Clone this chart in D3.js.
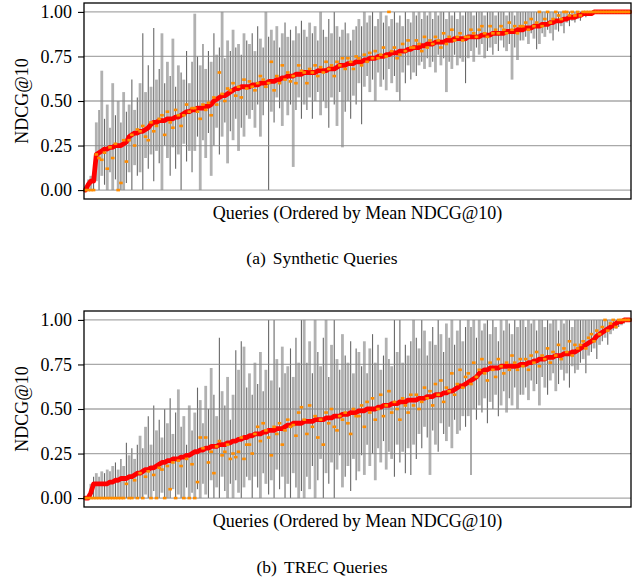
<!DOCTYPE html>
<html>
<head>
<meta charset="utf-8">
<script src="https://cdn.jsdelivr.net/npm/d3@7"></script>
<style>
  body { margin: 0; background: #fff; }
  svg text { font-family: "Liberation Serif", "Times New Roman", serif; fill: #000; }
</style>
</head>
<body>
<svg id="chart" width="638" height="584"></svg>
<script>
// Values in percent (NDCG@10 x 100), one entry per query, ordered by mean.
// Synthetic queries
var meanA = [
  0,3,5,5,20,21,22,23,23,24,24,25,25,25,26,27,30,31,32,32,
  33,33,34,35,37,38,38,39,39,39,40,40,40,41,41,42,43,44,44,45,
  45,46,46,46,47,47,48,50,51,52,53,53,54,55,56,57,57,58,58,58,
  58,59,59,59,60,60,60,61,61,61,62,62,63,63,64,64,64,65,65,65,
  66,66,66,66,66,67,67,67,67,68,68,68,69,70,70,70,71,71,71,72,
  72,72,73,73,74,74,74,75,75,75,76,76,77,77,77,78,78,78,79,79,
  80,80,80,81,81,82,82,82,83,83,83,83,84,84,84,85,85,85,85,85,
  86,86,86,86,86,87,87,87,87,88,88,88,88,88,89,89,89,89,90,90,
  90,91,91,91,92,92,92,93,93,93,94,94,95,95,95,96,96,97,97,97,
  98,98,99,99,99,99,100,100,100,100,100,100,100,100,100,100,100,100,100,100
];
var medianA = [
  0,0,0,0,20,18,17,21,12,24,18,26,0,4,28,16,28,31,25,34,
  33,36,30,28,38,33,36,40,42,31,44,38,35,45,42,36,42,48,44,46,
  46,44,40,48,45,49,42,52,48,66,54,50,57,56,60,53,58,52,62,57,
  61,58,56,60,64,62,58,60,72,56,64,60,70,62,66,61,64,60,70,67,
  66,60,68,66,70,64,69,66,72,68,70,64,72,70,74,68,74,72,68,75,
  74,70,76,72,77,74,78,74,76,80,75,100,78,80,74,76,82,78,84,80,
  80,84,82,78,86,80,84,82,86,84,80,88,82,86,90,84,86,88,84,86,
  86,90,88,86,90,92,88,86,92,88,90,88,92,90,88,94,90,92,88,92,
  92,94,90,96,92,94,100,92,96,100,94,96,100,98,96,100,100,98,100,98,
  100,98,100,100,100,100,100,100,100,100,100,100,100,100,100,100,100,100,100,100
];
var lowA = [
  0,0,0,0,5,0,8,3,0,10,0,6,0,0,0,4,10,0,14,8,
  10,0,18,12,20,5,22,15,0,25,18,8,24,12,20,0,26,16,22,10,
  22,30,0,28,18,32,8,25,35,20,30,38,15,33,28,40,22,35,30,42,
  40,45,35,48,30,42,50,0,44,38,52,46,36,50,42,48,13,45,52,40,
  48,45,52,40,50,55,42,50,46,35,52,48,36,55,24,44,50,40,53,48,
  60,37,58,64,55,62,50,66,58,62,56,68,60,64,55,50,66,60,70,62,
  66,64,70,72,68,74,69,72,66,76,70,74,55,72,68,76,70,74,72,60,
  74,78,72,80,76,82,74,78,80,76,82,78,84,80,78,82,62,80,73,84,
  84,86,82,88,85,79,82,88,86,90,88,84,90,89,92,88,94,92,95,94,
  96,95,98,97,98,99,100,100,100,100,100,100,100,100,100,100,100,100,100,100
];
var highA = [
  2,6,8,10,38,45,67,40,48,35,60,42,50,38,55,44,48,62,45,52,
  60,88,55,70,58,91,62,68,88,60,72,64,85,58,70,66,62,78,60,72,
  99,75,70,82,68,78,72,88,76,80,100,74,84,78,90,80,82,76,88,84,
  82,88,78,92,85,80,100,86,90,84,92,80,88,94,86,90,84,92,88,95,
  90,86,94,88,92,84,100,90,86,96,88,100,92,86,90,94,88,84,90,92,
  96,92,100,94,98,100,92,96,100,94,98,92,96,100,94,98,92,100,96,94,
  100,98,100,96,100,98,100,96,100,98,100,100,96,100,98,100,96,100,98,100,
  100,100,98,100,100,100,98,100,100,100,98,100,100,100,98,100,100,98,100,100,
  100,100,100,100,100,100,100,100,100,100,100,100,100,100,100,100,100,100,100,100,
  100,100,100,100,100,100,100,100,100,100,100,100,100,100,100,100,100,100,100,100
];

// TREC queries
var meanB = [
  0,0,3,8,8,8,8,8,8,9,9,10,10,11,11,11,12,12,13,14,
  14,15,16,16,17,17,18,19,20,20,21,21,22,22,22,23,23,24,24,25,
  26,26,27,27,28,28,29,29,29,30,30,30,31,31,32,32,33,33,34,34,
  35,35,36,36,36,37,37,38,38,38,39,39,39,40,41,41,42,42,42,42,
  43,43,43,43,44,44,44,44,45,45,45,46,46,46,47,47,47,48,48,48,
  49,49,49,50,50,50,50,51,51,52,52,52,53,53,53,54,54,54,55,55,
  55,55,56,56,56,57,57,57,58,58,58,59,59,60,60,61,62,63,63,64,
  65,66,67,68,70,71,72,72,73,73,73,73,74,74,74,74,74,74,74,75,
  75,75,76,76,77,77,78,78,78,79,79,79,80,80,80,81,81,81,82,82,
  83,84,85,86,87,88,89,91,92,93,94,95,96,97,98,99,99,100,100,100
];
var medianB = [
  0,0,0,0,0,0,0,0,0,0,0,0,0,0,0,8,0,0,10,0,
  14,0,12,15,0,13,0,17,16,0,18,5,20,0,21,18,0,22,0,19,
  0,9,34,28,34,20,26,14,29,32,24,26,30,22,25,23,26,34,22,30,
  30,25,36,40,32,42,38,34,24,40,36,42,30,38,44,40,41,35,48,51,
  44,36,52,40,46,34,44,30,48,42,50,40,38,46,44,48,42,36,50,46,
  46,52,40,54,48,56,44,50,58,46,52,60,48,54,50,44,56,52,48,58,
  52,58,50,54,62,56,60,52,64,58,66,54,62,60,70,58,64,72,62,68,
  70,64,76,68,72,78,70,66,76,72,68,78,74,70,76,72,80,76,72,78,
  74,78,72,80,76,82,74,80,78,84,76,82,80,86,78,84,82,88,80,86,
  84,86,88,84,90,92,88,94,92,96,100,94,98,100,96,100,100,100,100,100
];
var lowB = [
  0,0,0,0,0,0,0,0,0,0,0,0,0,0,0,0,0,0,0,0,
  0,0,2,0,0,4,0,0,3,0,0,0,5,0,2,0,0,6,0,3,
  0,5,0,8,2,0,10,0,6,0,12,4,0,8,0,10,3,0,6,12,
  10,0,12,6,0,14,8,2,10,0,16,5,12,0,8,0,14,6,0,4,
  0,12,5,18,0,10,22,0,14,8,20,0,16,24,6,12,18,4,22,10,
  15,24,13,30,18,25,10,28,20,32,16,26,22,12,30,20,26,14,28,13,
  30,22,36,28,40,34,13,38,30,26,42,36,32,40,28,44,36,38,46,40,
  46,13,50,44,52,48,56,42,54,50,58,46,52,60,48,56,52,62,50,58,
  58,62,55,66,60,64,52,68,62,58,66,70,60,64,72,66,70,62,74,70,
  72,76,78,70,80,82,84,78,86,88,90,86,92,94,95,96,97,98,99,99
];
var highB = [
  0,2,8,12,14,12,15,14,16,15,18,20,16,22,18,31,24,28,22,30,
  35,28,40,46,30,52,38,44,34,50,42,56,36,48,61,40,46,30,52,38,
  48,62,55,42,63,50,73,58,46,90,60,52,68,44,58,83,72,88,85,62,
  70,58,76,64,82,60,72,100,66,100,78,62,85,70,74,84,68,90,76,100,
  100,76,88,70,100,82,74,90,100,68,86,100,78,72,92,80,76,88,70,84,
  82,74,88,70,84,92,76,86,72,80,90,78,74,100,82,100,76,86,80,88,
  100,90,84,100,94,80,88,96,86,100,92,82,98,90,100,86,94,100,88,96,
  100,96,100,90,100,94,98,100,92,100,96,88,100,94,100,98,92,100,96,100,
  100,96,100,98,100,94,100,100,96,100,98,100,100,94,100,98,100,100,96,100,
  100,100,100,100,100,100,100,100,100,100,100,100,100,100,100,100,100,100,100,100
];

var yTicks = [0, 0.25, 0.5, 0.75, 1];
var serif = "'Liberation Serif', 'Times New Roman', serif";

var svg = d3.select("#chart");

var renderPanel = function(config) {
  var top = config.top;
  var plotLeft = 84, plotRight = 631, plotHeight = 196;
  var n = config.mean.length;

  var xScale = d3.scaleLinear().domain([-0.5, n - 0.5]).range([plotLeft, plotRight]);
  var yScale = d3.scaleLinear().domain([-0.05, 1.05]).range([top + plotHeight, top]);

  var rows = d3.range(n).map(function(i) {
    return {
      i: i,
      mean: config.mean[i] / 100,
      median: config.median[i] / 100,
      low: config.low[i] / 100,
      high: config.high[i] / 100
    };
  });

  var g = svg.append("g").attr("class", "panel");

  // spread bars: light wide ones first, then thin dark ones
  g.append("g")
    .attr("class", "bars light")
    .selectAll("line")
    .data(rows.filter(function(d) { return d.i % 2 === 0; }))
    .enter()
    .append("line")
    .attr("x1", function(d) { return xScale(d.i); })
    .attr("x2", function(d) { return xScale(d.i); })
    .attr("y1", function(d) { return yScale(d.low); })
    .attr("y2", function(d) { return yScale(d.high); })
    .attr("stroke", "#b1b1b1")
    .attr("stroke-width", 2.8);

  g.append("g")
    .attr("class", "bars dark")
    .selectAll("line")
    .data(rows.filter(function(d) { return d.i % 2 === 1; }))
    .enter()
    .append("line")
    .attr("x1", function(d) { return xScale(d.i); })
    .attr("x2", function(d) { return xScale(d.i); })
    .attr("y1", function(d) { return yScale(d.low); })
    .attr("y2", function(d) { return yScale(d.high); })
    .attr("stroke", "#686868")
    .attr("stroke-width", 1.1);

  // grid
  g.append("g")
    .attr("class", "grid")
    .selectAll("line")
    .data(yTicks)
    .enter()
    .append("line")
    .attr("x1", plotLeft)
    .attr("x2", plotRight)
    .attr("y1", function(d) { return yScale(d); })
    .attr("y2", function(d) { return yScale(d); })
    .attr("stroke", "#8c8c8c")
    .attr("stroke-opacity", 0.75)
    .attr("stroke-width", 1.3);

  // mean line
  var line = d3.line()
    .x(function(d) { return xScale(d.i); })
    .y(function(d) { return yScale(d.mean); });

  g.append("path")
    .datum(rows)
    .attr("fill", "none")
    .attr("stroke", "#ff0000")
    .attr("stroke-width", 4.8)
    .attr("stroke-linejoin", "round")
    .attr("stroke-linecap", "round")
    .attr("d", line);

  // medians
  g.append("g")
    .attr("class", "medians")
    .selectAll("rect")
    .data(rows)
    .enter()
    .append("rect")
    .attr("x", function(d) { return xScale(d.i) - 1.8; })
    .attr("y", function(d) { return yScale(d.median) - 1.3; })
    .attr("width", 3.6)
    .attr("height", 2.6)
    .attr("fill", "#ff8c00");

  // frame
  g.append("rect")
    .attr("x", plotLeft)
    .attr("y", top)
    .attr("width", plotRight - plotLeft)
    .attr("height", plotHeight)
    .attr("fill", "none")
    .attr("stroke", "#000")
    .attr("stroke-width", 1.3);

  // y axis
  var yAxis = d3.axisLeft(yScale)
    .tickValues(yTicks)
    .tickFormat(d3.format(".2f"))
    .tickSize(6)
    .tickPadding(6);

  var axisG = g.append("g")
    .attr("class", "y axis")
    .attr("transform", "translate(" + plotLeft + ",0)")
    .call(yAxis)
    .attr("font-family", serif)
    .attr("font-size", 18);
  axisG.select(".domain").remove();
  axisG.selectAll("line").attr("stroke", "#000").attr("stroke-width", 1.1);
  axisG.selectAll("text").attr("fill", "#000");

  // axis titles
  g.append("text")
    .attr("transform", "translate(28," + (top + plotHeight / 2) + ") rotate(-90)")
    .attr("text-anchor", "middle")
    .attr("font-size", 18)
    .text("NDCG@10");

  g.append("text")
    .attr("x", (plotLeft + plotRight) / 2)
    .attr("y", top + 216)
    .attr("text-anchor", "middle")
    .attr("font-size", 18)
    .text("Queries (Ordered by Mean NDCG@10)");

  // caption
  var cap = g.append("text")
    .attr("x", 322)
    .attr("y", top + config.captionOffset)
    .attr("text-anchor", "middle")
    .attr("font-size", 17.5);
  cap.append("tspan").text(config.tag);
  cap.append("tspan").attr("dx", 7).text(config.caption);
};

renderPanel({
  top: 3,
  captionOffset: 261,
  tag: "(a)",
  caption: "Synthetic Queries",
  mean: meanA,
  median: medianA,
  low: lowA,
  high: highA
});

renderPanel({
  top: 311,
  captionOffset: 262,
  tag: "(b)",
  caption: "TREC Queries",
  mean: meanB,
  median: medianB,
  low: lowB,
  high: highB
});
</script>
</body>
</html>
